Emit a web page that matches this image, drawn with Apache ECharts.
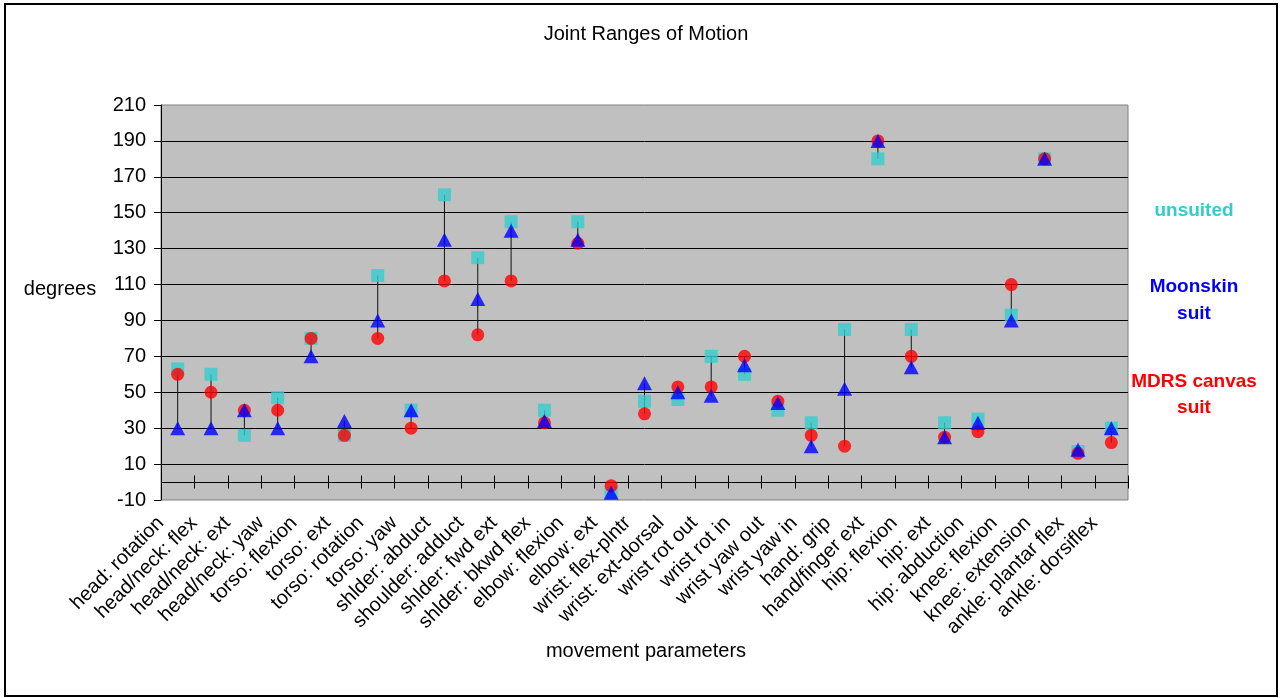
<!DOCTYPE html>
<html>
<head>
<meta charset="utf-8">
<script src="https://cdn.jsdelivr.net/npm/echarts@6/dist/echarts.min.js"></script>
<style>
html,body{margin:0;padding:0;background:#fff;}
#chart{width:1282px;height:698px;}
</style>
</head>
<body>
<div id="chart"></div>
<script>
const categories = ["head: rotation","head/neck: flex","head/neck: ext","head/neck: yaw","torso: flexion","torso: ext","torso: rotation","torso: yaw","shlder: abduct","shoulder: adduct","shlder: fwd ext","shlder: bkwd flex","elbow: flexion","elbow: ext","wrist: flex-plntr","wrist: ext-dorsal","wrist rot out","wrist rot in","wrist yaw out","wrist yaw in","hand: grip","hand/finger ext","hip: flexion","hip: ext","hip: abduction","knee: flexion","knee: extension","ankle: plantar flex","ankle: dorsiflex"];
const unsuited = [63, 60, 26, 47, 80, 26, 115, 40, 160, 125, 145, 40, 145, -6, 45, 46, 70, 60, 40, 33, 85, 180, 85, 33, 35, 93, 180, 17, 30];
const moonskin = [30, 30, 40, 30, 70, 34, 90, 40, 135, 102, 140, 34, 135, -6, 55, 50, 48, 65, 44, 20, 52, 190, 64, 25, 33, 90, 180, 18, 30];
const mdrs = [60, 50, 40, 40, 80, 26, 80, 30, 112, 82, 112, 33, 133, -2, 38, 53, 53, 70, 45, 26, 20, 190, 70, 25, 28, 110, 180, 16, 22];
const yTitle = "degrees";
const xTitle = "movement parameters";
const chartTitle = "Joint Ranges of Motion";

const FONT = "'Liberation Sans', Arial, sans-serif";
const rangeData = categories.map((c, i) => {
  const vals = [unsuited[i], moonskin[i], mdrs[i]];
  return [i, Math.min.apply(null, vals), Math.max.apply(null, vals)];
});
const zeroAxisData = categories.map((c, i) => [i, 0]);

const chart = echarts.init(document.getElementById('chart'), null, {renderer: 'canvas'});
const option = {
  animation: false,
  backgroundColor: '#ffffff',
  textStyle: {fontFamily: FONT},
  grid: {left: 161, right: 154, top: 105, bottom: 198, show: true, backgroundColor: '#C0C0C0', borderColor: '#808080', borderWidth: 1, containLabel: false},
  xAxis: {
    type: 'category', data: categories, position: 'bottom', boundaryGap: true,
    axisLine: {show: false, onZero: false}, axisTick: {show: false},
    axisLabel: {rotate: 45, interval: 0, fontSize: 20, color: '#000', fontFamily: FONT, margin: 3, padding: [0, 24, 0, 0]},
    splitLine: {show: false}
  },
  yAxis: {
    type: 'value', min: -10, max: 210, interval: 20,
    axisLine: {show: true, onZero: false, lineStyle: {color: '#000', width: 1}},
    axisTick: {show: true, length: 7, lineStyle: {color: '#000', width: 1}},
    axisLabel: {fontSize: 20, color: '#000', fontFamily: FONT, margin: 15},
    splitLine: {show: true, showMinLine: false, showMaxLine: false, lineStyle: {color: '#000', width: 1}}
  },
  graphic: [
    {type: 'rect', shape: {x: 5, y: 4, width: 1272, height: 692}, style: {fill: 'none', stroke: '#000', lineWidth: 2}, silent: true},
    {type: 'text', x: 646, y: 34, style: {text: chartTitle, font: "20px " + FONT, fill: '#000', textAlign: 'center', textVerticalAlign: 'middle'}},
    {type: 'text', x: 60, y: 289, style: {text: yTitle, font: "20px " + FONT, fill: '#000', textAlign: 'center', textVerticalAlign: 'middle'}},
    {type: 'text', x: 646, y: 651, style: {text: xTitle, font: "20px " + FONT, fill: '#000', textAlign: 'center', textVerticalAlign: 'middle'}},
    {type: 'text', x: 1194, y: 211, style: {text: 'unsuited', font: "bold 19px " + FONT, fill: '#33CCCC', textAlign: 'center', textVerticalAlign: 'middle'}},
    {type: 'text', x: 1194, y: 287, style: {text: 'Moonskin', font: "bold 19px " + FONT, fill: '#0000FF', textAlign: 'center', textVerticalAlign: 'middle'}},
    {type: 'text', x: 1194, y: 314, style: {text: 'suit', font: "bold 19px " + FONT, fill: '#0000FF', textAlign: 'center', textVerticalAlign: 'middle'}},
    {type: 'text', x: 1194, y: 382, style: {text: 'MDRS canvas', font: "bold 19px " + FONT, fill: '#FF0000', textAlign: 'center', textVerticalAlign: 'middle'}},
    {type: 'text', x: 1194, y: 408, style: {text: 'suit', font: "bold 19px " + FONT, fill: '#FF0000', textAlign: 'center', textVerticalAlign: 'middle'}}
  ],
  series: [
    {type: 'custom', name: 'zero axis', z: 1, data: zeroAxisData, encode: {x: 0, y: 1}, silent: true,
     renderItem: function (params, api) {
       const i = api.value(0);
       const c = api.coord([i, 0]);
       const w = api.size([1, 0])[0];
       const y = Math.round(c[1]) + 0.5;
       const l = Math.round(c[0] - w / 2) + 0.5;
       const r = Math.round(c[0] + w / 2) + 0.5;
       const st = {stroke: '#000', lineWidth: 1};
       const children = [
         {type: 'line', shape: {x1: l, y1: y, x2: r, y2: y}, style: st},
         {type: 'line', shape: {x1: l, y1: y - 7, x2: l, y2: y + 6}, style: st}
       ];
       if (i === categories.length - 1) {
         children.push({type: 'line', shape: {x1: r, y1: y - 7, x2: r, y2: y + 6}, style: st});
       }
       return {type: 'group', children: children};
     }},
    {type: 'custom', name: 'range', z: 1, data: rangeData,
     encode: {x: 0, y: [1, 2]},
     renderItem: function (params, api) {
       const lo = api.coord([api.value(0), api.value(1)]);
       const hi = api.coord([api.value(0), api.value(2)]);
       return {type: 'line', shape: {x1: lo[0], y1: lo[1], x2: hi[0], y2: hi[1]}, style: {stroke: '#111', lineWidth: 1}};
     }},
    {type: 'scatter', name: 'unsuited', z: 2, data: unsuited, symbol: 'rect', symbolSize: 13, itemStyle: {color: '#33CCCC'}},
    {type: 'scatter', name: 'MDRS canvas suit', z: 3, data: mdrs, symbol: 'circle', symbolSize: 13, itemStyle: {color: '#FF0000'}},
    {type: 'scatter', name: 'Moonskin suit', z: 4, data: moonskin, symbol: 'triangle', symbolSize: [15, 14], itemStyle: {color: '#0000FF'}}
  ]
};
chart.setOption(option);
</script>
</body>
</html>
